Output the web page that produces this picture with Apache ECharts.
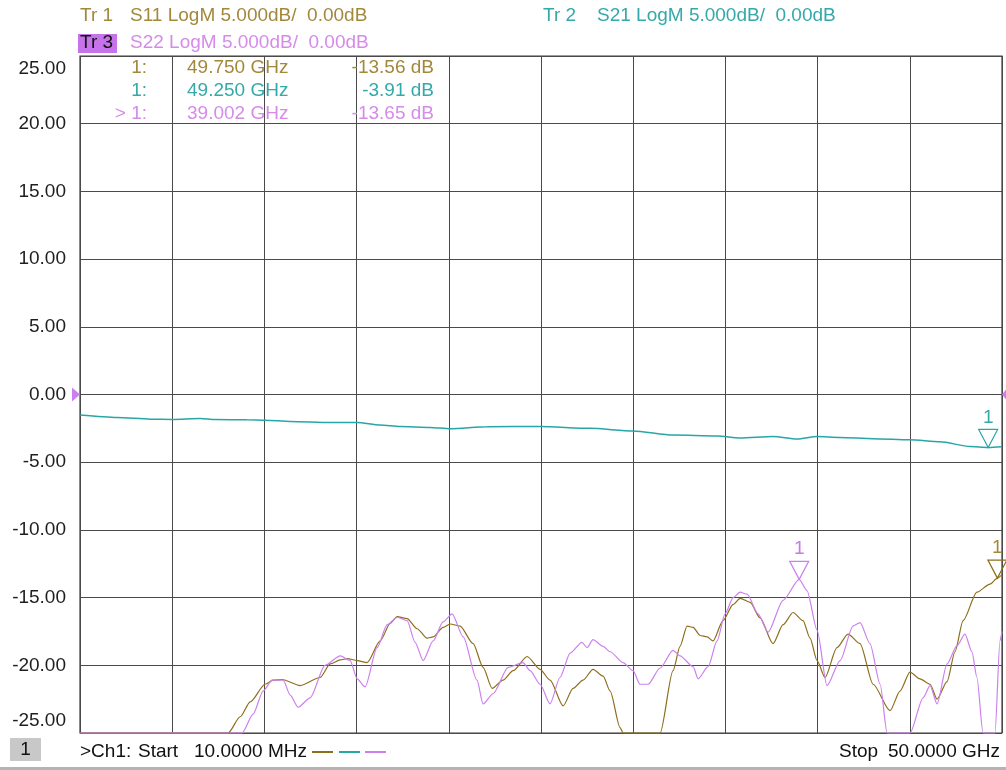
<!DOCTYPE html>
<html><head><meta charset="utf-8">
<script src="https://cdn.jsdelivr.net/npm/echarts@6/dist/echarts.min.js"></script>
<style>html,body{margin:0;padding:0;background:#fff}#c{width:1006px;height:770px}</style>
</head><body><div id="c"></div><script>
// ---- data (frequency in GHz, level in dB) ----
const yTickMin = -25, yTickMax = 25, yTickStep = 5;
const xMin = 0, xMax = 50, xStep = 5;

const s11Freq = [0.01,8.03,8.69,9.23,10.04,10.47,10.96,11.94,13.02,13.57,14.11,14.49,15.03,15.57,16.28,16.82,17.20,17.74,18.28,18.82,19.15,19.69,20.07,20.61,21.32,21.86,22.35,22.94,23.49,24.25,24.95,25.49,26.20,26.74,27.28,27.82,28.37,28.75,29.29,29.45,31.46,32.16,32.54,32.92,33.25,33.63,34.01,34.33,34.87,35.42,35.80,36.34,36.88,37.58,38.13,38.67,39.21,39.59,39.97,40.40,41.05,41.65,42.30,43.01,43.93,44.47,45.01,45.55,46.10,46.48,47.02,47.45,47.89,48.64,49.35,49.75,50.00];
const s11Db = [-25,-25,-23.8,-22.7,-21.4,-21.1,-21.05,-21.5,-20.9,-19.9,-19.6,-19.5,-19.65,-19.8,-18.2,-16.9,-16.4,-16.55,-17.3,-18.0,-17.9,-17.2,-16.95,-17.1,-18.4,-20.15,-21.7,-21.1,-20.4,-19.35,-20.3,-21.1,-23.0,-21.7,-21.1,-20.3,-20.8,-21.9,-24.6,-25,-25,-20.4,-18.6,-17.1,-17.2,-17.8,-17.9,-18.2,-16.7,-15.5,-15.05,-15.35,-16.5,-18.4,-17.0,-16.1,-16.7,-18.0,-19.65,-20.9,-18.7,-17.7,-18.4,-21.4,-23.35,-21.9,-20.5,-21.0,-21.4,-22.5,-21.2,-19.0,-16.7,-14.6,-14.0,-13.56,-13.3];

const s21Freq = [0.01,2.02,3.81,5.00,6.52,7.33,9.06,10.04,11.40,13.57,15.03,16.28,17.36,18.99,20.07,22.08,24.95,27.66,29.99,32.16,34.55,35.80,37.58,38.89,39.97,41.22,43.01,45.01,46.64,48.27,49.25,50.00];
const s21Db = [-1.52,-1.70,-1.82,-1.84,-1.77,-1.85,-1.87,-1.90,-1.99,-2.07,-2.07,-2.26,-2.36,-2.43,-2.53,-2.38,-2.36,-2.50,-2.70,-3.00,-3.07,-3.22,-3.10,-3.29,-3.10,-3.17,-3.26,-3.34,-3.49,-3.84,-3.91,-3.85];

const s22Freq = [0.01,8.79,9.39,9.93,10.42,11.02,11.40,11.83,12.48,13.29,14.11,14.65,15.03,15.46,16.11,16.66,17.20,17.74,18.17,18.61,19.15,19.69,20.18,20.78,21.53,21.86,22.40,23.22,24.03,24.41,24.95,25.49,26.03,26.58,27.22,27.50,27.82,28.37,28.75,29.45,29.99,30.37,30.81,31.46,32.16,32.54,33.25,33.52,34.06,34.55,34.98,35.42,35.80,36.18,36.77,37.31,38.13,39.002,39.43,39.97,40.51,41.22,41.92,42.30,42.84,43.39,43.77,45.01,45.72,46.10,46.48,47.02,47.56,47.99,48.37,48.64,48.97,49.62,49.89,50.00];
const s22Db = [-25,-25,-23.6,-21.9,-21.1,-21.1,-22.2,-23.1,-22.4,-20.0,-19.3,-19.65,-21.0,-21.6,-18.7,-17.0,-16.45,-16.7,-18.3,-19.65,-18.2,-16.8,-16.2,-17.9,-21.1,-22.85,-22.1,-20.15,-19.8,-20.4,-21.4,-22.85,-20.9,-19.1,-18.3,-18.7,-18.1,-18.6,-19.0,-19.8,-20.4,-21.4,-21.4,-20.2,-18.9,-19.3,-20.1,-21.0,-20.1,-18.2,-16.2,-15.0,-14.6,-14.75,-16.2,-17.55,-15.2,-13.65,-14.5,-17.4,-21.5,-19.65,-17.1,-16.85,-18.4,-21.4,-25,-25,-22.4,-21.5,-22.85,-19.9,-18.55,-17.7,-19.0,-20.9,-25,-25,-18.2,-17.5];

const traceNames = ['S11','S21','S22'];
const traceIds = ['Tr 1','Tr 2','Tr 3'];
const markerFreq = [49.750, 49.250, 39.002];
const markerDb = [-13.56, -3.91, -13.65];
const startText = '10.0000 MHz';
const stopText = '50.0000 GHz';

// ---- styles ----
const lineColors = ['#8d6e1c', '#27a6a6', '#cc80ee'];
const textColors = ['#a3883a', '#35a9a9', '#d68be9'];
const FONT = '"Liberation Sans", Arial, sans-serif';
const FS = 19;

const zip = (a, b) => a.map((v, i) => [v, b[i]]);
const traces = [zip(s11Freq, s11Db), zip(s21Freq, s21Db), zip(s22Freq, s22Db)];

const chart = echarts.init(document.getElementById('c'), null, {renderer: 'canvas'});

const series = traces.map((d, i) => ({
  name: traceNames[i],
  type: 'line',
  data: d,
  showSymbol: false,
  clip: false,
  smooth: 0.25,
  smoothMonotone: 'x',
  z: i === 1 ? 4 : 3,
  lineStyle: {color: lineColors[i], width: i === 1 ? 1.5 : 1.2},
  emphasis: {disabled: true},
  markPoint: {
    symbol: 'path://M0,0L20,0L10,18Z',
    symbolSize: [19, 18],
    symbolOffset: [0, '-50%'],
    silent: true,
    itemStyle: {color: 'rgba(0,0,0,0)', borderColor: lineColors[i], borderWidth: 1.2},
    label: {show: true, position: 'top', distance: 2, formatter: '1', color: i === 2 ? '#c878e8' : textColors[i], fontSize: FS, fontFamily: FONT},
    data: [{coord: [markerFreq[i], markerDb[i]]}]
  }
}));

const gridL = 80, gridT = 56, gridW = 922, gridH = 677;

chart.setOption({
  backgroundColor: '#ffffff',
  animation: false,
  grid: {left: gridL, top: gridT, width: gridW, height: gridH, show: true, borderColor: '#3c3c3c', borderWidth: 1.2, backgroundColor: 'transparent'},
  xAxis: {
    type: 'value', min: xMin, max: xMax, interval: xStep,
    axisLabel: {show: false}, axisTick: {show: false}, axisLine: {show: false},
    splitLine: {show: true, lineStyle: {color: '#4a4a4a', width: 1}}
  },
  yAxis: {
    type: 'value', min: yTickMin, max: yTickMax, interval: yTickStep,
    axisTick: {show: false}, axisLine: {show: false},
    splitLine: {show: true, lineStyle: {color: '#4a4a4a', width: 1}},
    axisLabel: {
      formatter: v => v.toFixed(2), fontSize: FS, lineHeight: 25, color: '#1e1e1e', fontFamily: FONT, margin: 14,
      verticalAlignMaxLabel: 'top', verticalAlignMinLabel: 'bottom'
    }
  },
  series: series
});

// ---- header / footer text ----
const zeroPx = chart.convertToPixel({gridIndex: 0}, [0, 0]);
const fmtDb = v => v.toFixed(2) + ' dB';
const fmtF = v => v.toFixed(3) + ' GHz';
const T = (x, y, text, color, align) => ({
  type: 'text', x: x, y: y, silent: true,
  style: {text: text, fill: color, font: FS + 'px ' + FONT, align: align || 'left', verticalAlign: 'middle'}
});
const scale = ' LogM 5.000dB/  0.00dB';

const g = [];
g.push(T(80, 16, traceIds[0], textColors[0]));
g.push(T(130, 16, traceNames[0] + scale, textColors[0]));
g.push(T(543, 16, traceIds[1], textColors[1]));
g.push(T(597, 16, traceNames[1] + scale, textColors[1]));
g.push({type: 'rect', shape: {x: 78, y: 34, width: 39, height: 19}, style: {fill: '#c672ea'}, silent: true});
g.push(T(80, 43, traceIds[2], '#111'));
g.push(T(130, 43, traceNames[2] + scale, textColors[2]));
// marker readouts
const rowY = [68, 91, 114];
const prefix = ['1:', '1:', '> 1:'];
for (let i = 0; i < 3; i++) {
  g.push(T(147, rowY[i], prefix[i], textColors[i], 'right'));
  g.push(T(187, rowY[i], fmtF(markerFreq[i]), textColors[i]));
  g.push(T(434, rowY[i], fmtDb(markerDb[i]), textColors[i], 'right'));
}
// reference level arrows
g.push({type: 'polygon', silent: true, shape: {points: [[72, zeroPx[1] - 7], [80, zeroPx[1]], [72, zeroPx[1] + 7]]}, style: {fill: '#cc7ff0'}});
g.push({type: 'polygon', silent: true, shape: {points: [[1006, zeroPx[1] - 5], [1002, zeroPx[1]], [1006, zeroPx[1] + 5]]}, style: {fill: '#cc7ff0'}});
// footer
g.push({type: 'rect', shape: {x: 10, y: 738, width: 31, height: 23}, style: {fill: '#c8c8c8'}, silent: true});
g.push(T(25.5, 750, '1', '#111', 'center'));
g.push(T(80, 752, '>Ch1:', '#111'));
g.push(T(138, 752, 'Start', '#111'));
g.push(T(194, 752, startText, '#111'));
const legX = [312, 339, 365];
for (let i = 0; i < 3; i++) {
  g.push({type: 'line', silent: true, shape: {x1: legX[i], y1: 752, x2: legX[i] + 21, y2: 752}, style: {stroke: lineColors[i], lineWidth: 2}});
}
g.push(T(839, 752, 'Stop', '#111'));
g.push(T(1000, 752, stopText, '#111', 'right'));
g.push({type: 'rect', shape: {x: 0, y: 767, width: 1006, height: 3}, style: {fill: '#b4b4b4'}, silent: true});

chart.setOption({graphic: g});
</script></body></html>
